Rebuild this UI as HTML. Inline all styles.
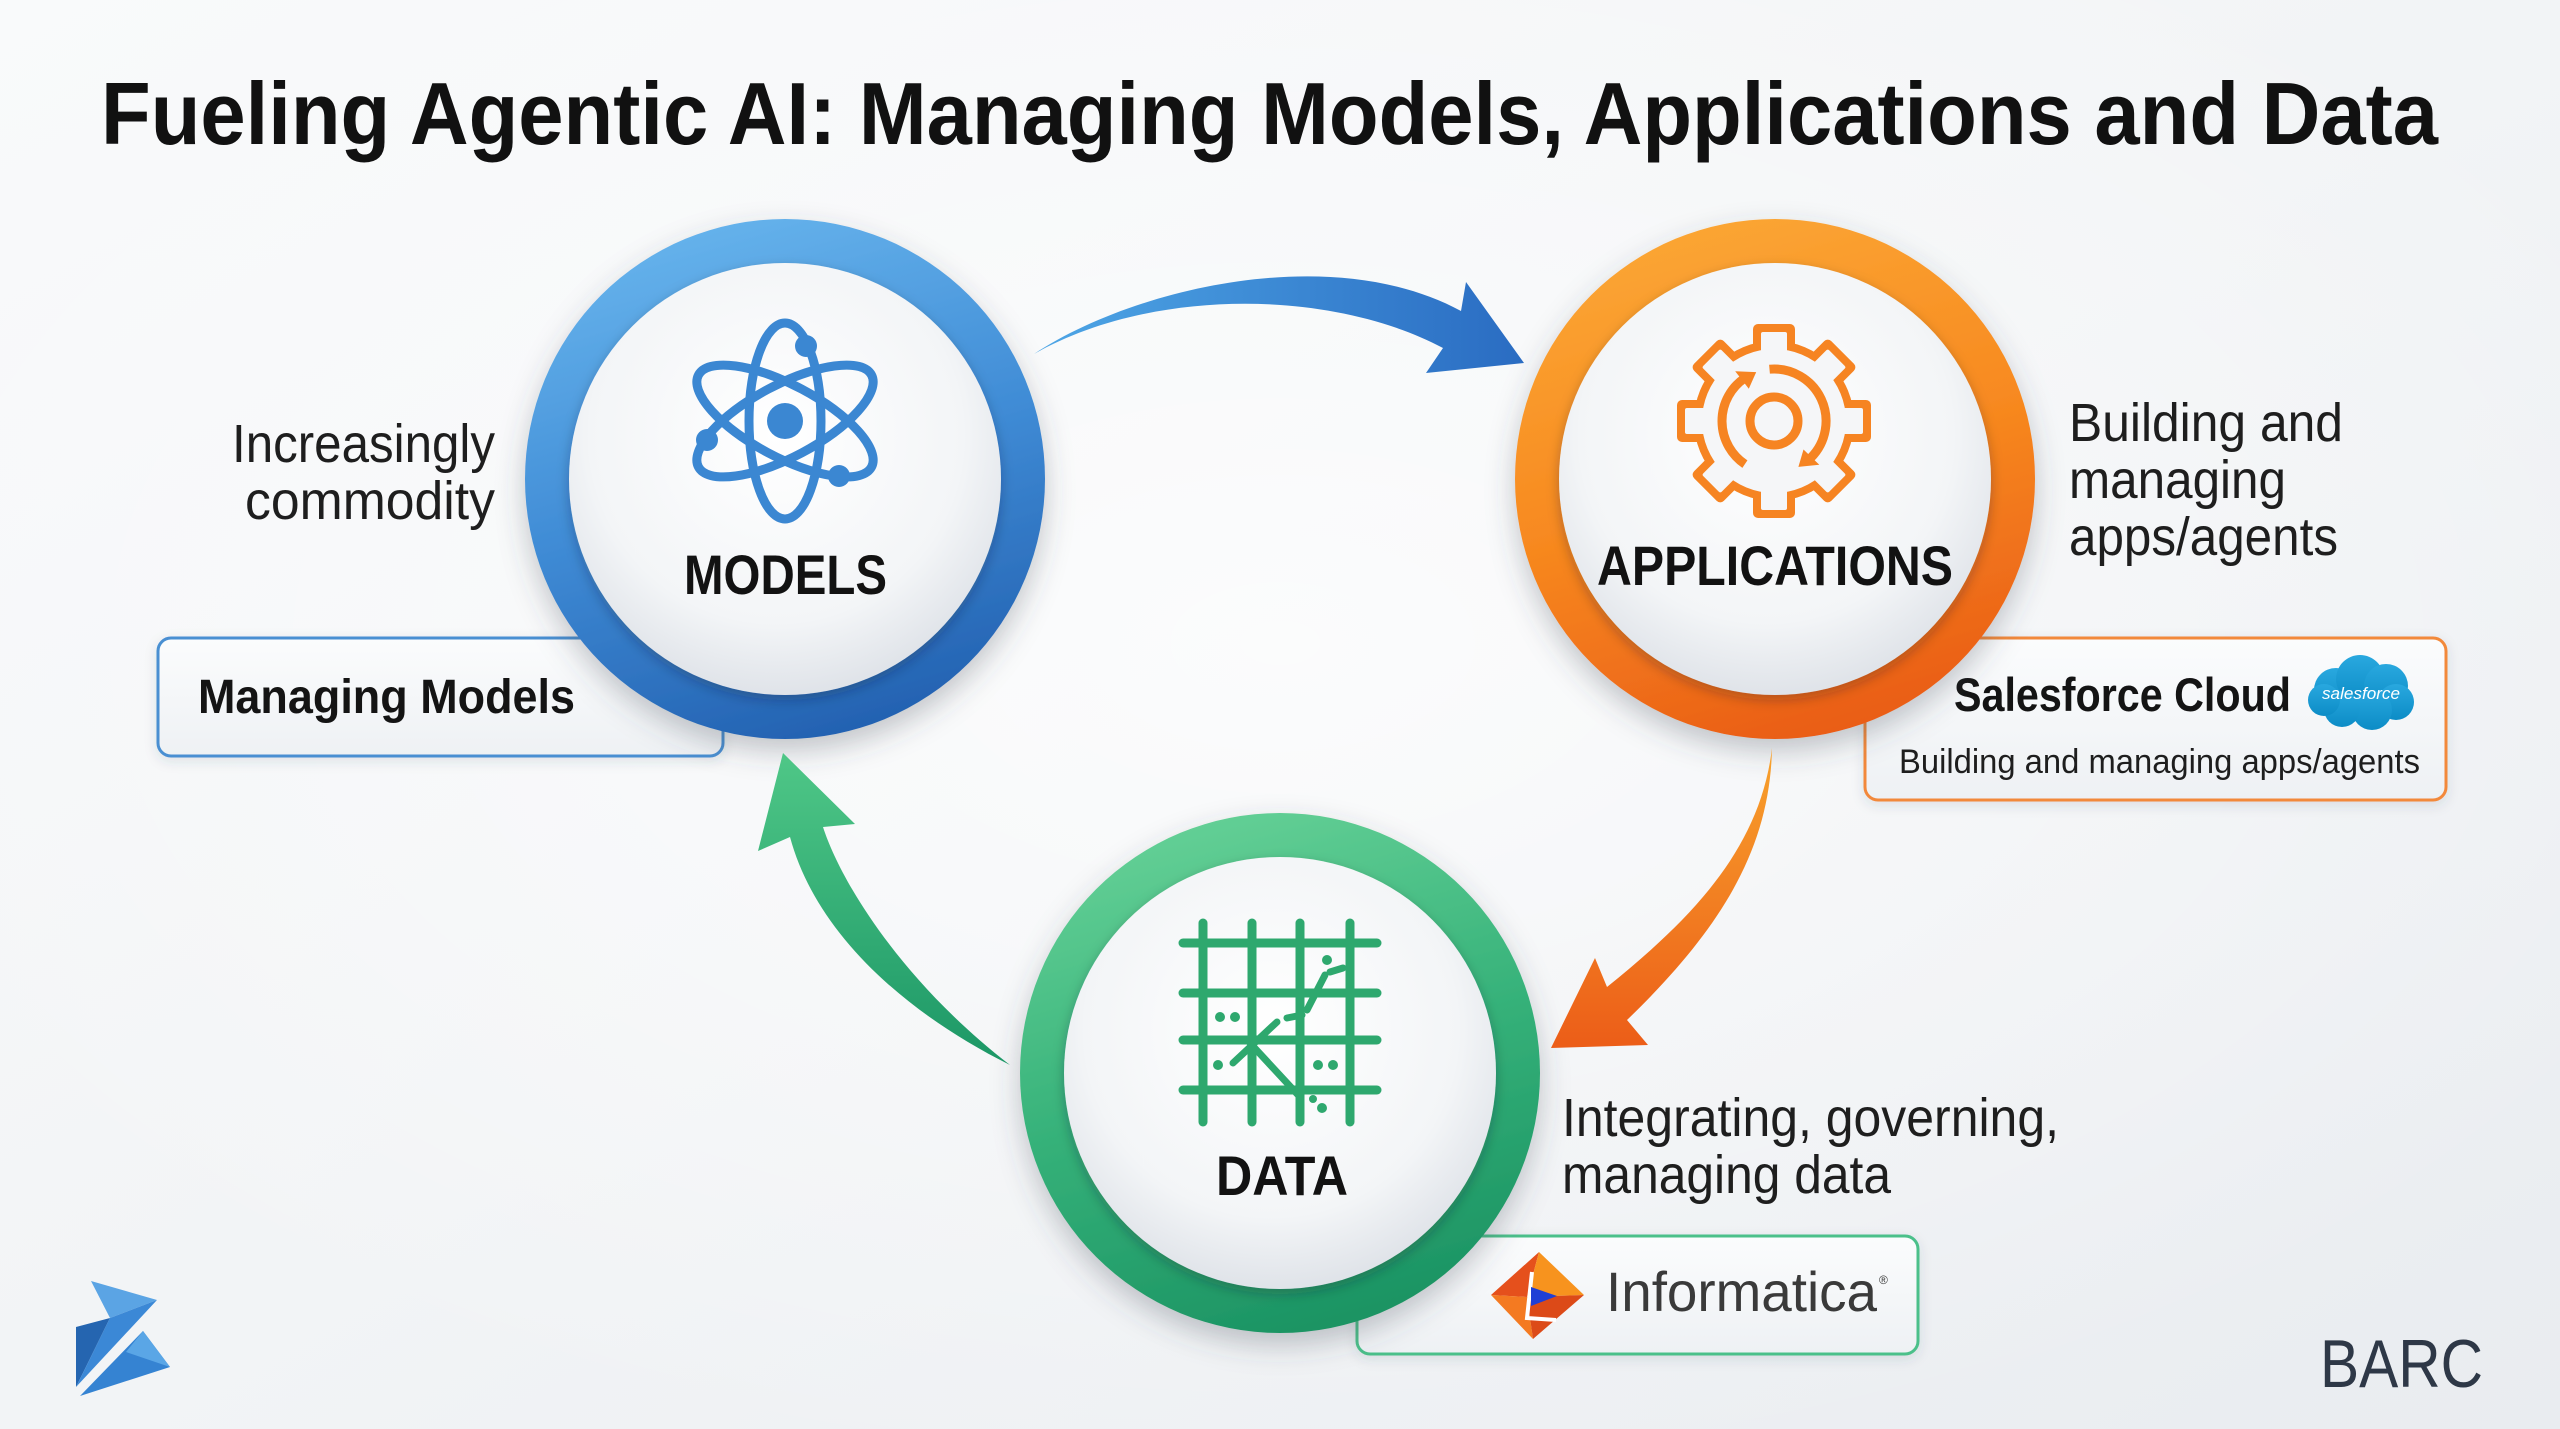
<!DOCTYPE html>
<html>
<head>
<meta charset="utf-8">
<style>
html,body{margin:0;padding:0;width:2560px;height:1429px;overflow:hidden;background:#f1f3f6}
svg{display:block}
text{font-family:"Liberation Sans",Arial,sans-serif}
</style>
</head>
<body>
<svg width="2560" height="1429" viewBox="0 0 2560 1429" xmlns="http://www.w3.org/2000/svg">
<defs>
  <linearGradient id="bg" x1="0" y1="0" x2="1" y2="1">
    <stop offset="0" stop-color="#f9fafb"/>
    <stop offset="0.5" stop-color="#f2f4f6"/>
    <stop offset="1" stop-color="#e9ecf0"/>
  </linearGradient>
  <radialGradient id="bgglow" cx="0.5" cy="0.45" r="0.6">
    <stop offset="0" stop-color="#ffffff" stop-opacity="0.7"/>
    <stop offset="1" stop-color="#ffffff" stop-opacity="0"/>
  </radialGradient>
  <linearGradient id="ringBlue" x1="0.35" y1="0" x2="0.65" y2="1">
    <stop offset="0" stop-color="#66b3ec"/>
    <stop offset="0.5" stop-color="#3f8bd5"/>
    <stop offset="1" stop-color="#2260b0"/>
  </linearGradient>
  <linearGradient id="ringOrange" x1="0.35" y1="0" x2="0.65" y2="1">
    <stop offset="0" stop-color="#fba634"/>
    <stop offset="0.5" stop-color="#f7881f"/>
    <stop offset="1" stop-color="#e95b16"/>
  </linearGradient>
  <linearGradient id="ringGreen" x1="0.35" y1="0" x2="0.65" y2="1">
    <stop offset="0" stop-color="#64d096"/>
    <stop offset="0.5" stop-color="#35b179"/>
    <stop offset="1" stop-color="#1a9262"/>
  </linearGradient>
  <radialGradient id="disc" cx="0.48" cy="0.4" r="0.62">
    <stop offset="0" stop-color="#ffffff"/>
    <stop offset="0.7" stop-color="#f3f5f7"/>
    <stop offset="1" stop-color="#dde1e7"/>
  </radialGradient>
  <linearGradient id="arBlue" x1="0" y1="0" x2="1" y2="0">
    <stop offset="0" stop-color="#4ea6e6"/>
    <stop offset="1" stop-color="#2a6cc2"/>
  </linearGradient>
  <linearGradient id="arGreen" x1="0" y1="0" x2="0" y2="1">
    <stop offset="0" stop-color="#4fc787"/>
    <stop offset="1" stop-color="#1c9766"/>
  </linearGradient>
  <linearGradient id="arOrange" x1="0" y1="0" x2="0" y2="1">
    <stop offset="0" stop-color="#f8a22c"/>
    <stop offset="1" stop-color="#ec5d18"/>
  </linearGradient>
  <linearGradient id="boxfill" x1="0" y1="0" x2="0" y2="1">
    <stop offset="0" stop-color="#fbfcfd"/>
    <stop offset="1" stop-color="#eef1f4"/>
  </linearGradient>
  <linearGradient id="sfg" x1="0" y1="0" x2="0" y2="1">
    <stop offset="0" stop-color="#29a8df"/>
    <stop offset="1" stop-color="#0c8cc6"/>
  </linearGradient>
  <filter id="sh" x="-25%" y="-25%" width="150%" height="150%">
    <feDropShadow dx="0" dy="12" stdDeviation="14" flood-color="#3c4656" flood-opacity="0.3"/>
  </filter>
  <filter id="ish" x="-25%" y="-25%" width="150%" height="150%">
    <feDropShadow dx="0" dy="5" stdDeviation="6" flood-color="#1c2430" flood-opacity="0.28"/>
  </filter>
  <filter id="bsh" x="-10%" y="-20%" width="120%" height="150%">
    <feDropShadow dx="0" dy="4" stdDeviation="6" flood-color="#3c4656" flood-opacity="0.12"/>
  </filter>
</defs>

<!-- background -->
<rect width="2560" height="1429" fill="url(#bg)"/>
<rect width="2560" height="1429" fill="url(#bgglow)"/>

<!-- title -->
<text x="101" y="144" font-size="88" font-weight="bold" fill="#111" textLength="2337" lengthAdjust="spacingAndGlyphs">Fueling Agentic AI: Managing Models, Applications and Data</text>

<!-- side texts -->
<text x="232" y="462" font-size="54" fill="#1e1e1e" textLength="263" lengthAdjust="spacingAndGlyphs">Increasingly</text>
<text x="245" y="519" font-size="54" fill="#1e1e1e" textLength="250" lengthAdjust="spacingAndGlyphs">commodity</text>

<text x="2069" y="441" font-size="54" fill="#1e1e1e" textLength="274" lengthAdjust="spacingAndGlyphs">Building and</text>
<text x="2069" y="498" font-size="54" fill="#1e1e1e" textLength="217" lengthAdjust="spacingAndGlyphs">managing</text>
<text x="2069" y="555" font-size="54" fill="#1e1e1e" textLength="269" lengthAdjust="spacingAndGlyphs">apps/agents</text>

<text x="1562" y="1136" font-size="54" fill="#1e1e1e" textLength="497" lengthAdjust="spacingAndGlyphs">Integrating, governing,</text>
<text x="1562" y="1193" font-size="54" fill="#1e1e1e" textLength="329" lengthAdjust="spacingAndGlyphs">managing data</text>

<!-- boxes -->
<rect x="158" y="638" width="565" height="118" rx="13" fill="url(#boxfill)" stroke="#4a8fd2" stroke-width="3" filter="url(#bsh)"/>
<text x="198" y="713" font-size="48" font-weight="bold" fill="#141414" textLength="377" lengthAdjust="spacingAndGlyphs">Managing Models</text>

<rect x="1865" y="638" width="581" height="162" rx="13" fill="url(#boxfill)" stroke="#f2893a" stroke-width="3" filter="url(#bsh)"/>
<text x="1954" y="711" font-size="47" font-weight="bold" fill="#141414" textLength="337" lengthAdjust="spacingAndGlyphs">Salesforce Cloud</text>
<text x="1899" y="773" font-size="34" fill="#1e1e1e" textLength="521" lengthAdjust="spacingAndGlyphs">Building and managing apps/agents</text>
<!-- salesforce cloud logo -->
<g fill="url(#sfg)">
  <circle cx="2336" cy="690" r="22"/>
  <circle cx="2360" cy="679" r="24"/>
  <circle cx="2386" cy="686" r="22"/>
  <circle cx="2396" cy="702" r="18"/>
  <circle cx="2372" cy="710" r="20"/>
  <circle cx="2342" cy="709" r="18"/>
  <circle cx="2324" cy="700" r="16"/>
</g>
<text x="2361" y="699" font-size="17" fill="#ffffff" text-anchor="middle" font-style="italic" textLength="78" lengthAdjust="spacingAndGlyphs">salesforce</text>

<rect x="1357" y="1236" width="561" height="118" rx="13" fill="url(#boxfill)" stroke="#4cc08a" stroke-width="3" filter="url(#bsh)"/>
<!-- informatica logo -->
<g>
  <polygon points="1539,1252 1491,1295 1527,1297" fill="#e5501c"/>
  <polygon points="1539,1252 1584,1295 1527,1297" fill="#f7931e"/>
  <polygon points="1491,1295 1533,1339 1527,1297" fill="#f47a21"/>
  <polygon points="1584,1295 1533,1339 1527,1297" fill="#dc4a18"/>
  <polyline points="1532,1272 1527,1318 1556,1320" fill="none" stroke="#ffffff" stroke-width="4"/>
  <polygon points="1531,1287 1557,1296 1531,1306" fill="#1f3fd6"/>
</g>
<text x="1606" y="1311" font-size="56" fill="#3a3a3a" textLength="271" lengthAdjust="spacingAndGlyphs">Informatica</text>
<text x="1879" y="1284" font-size="12" fill="#3a3a3a">®</text>

<!-- circles -->
<!-- Models -->
<circle cx="785" cy="479" r="260" fill="url(#ringBlue)" filter="url(#sh)"/>
<circle cx="785" cy="479" r="216" fill="url(#disc)" filter="url(#ish)"/>
<!-- Applications -->
<circle cx="1775" cy="479" r="260" fill="url(#ringOrange)" filter="url(#sh)"/>
<circle cx="1775" cy="479" r="216" fill="url(#disc)" filter="url(#ish)"/>
<!-- Data -->
<circle cx="1280" cy="1073" r="260" fill="url(#ringGreen)" filter="url(#sh)"/>
<circle cx="1280" cy="1073" r="216" fill="url(#disc)" filter="url(#ish)"/>

<!-- atom icon -->
<g transform="translate(785,421)" fill="none" stroke="#3b87d2" stroke-width="9">
  <ellipse rx="98" ry="36" transform="rotate(90)"/>
  <ellipse rx="98" ry="36" transform="rotate(28)"/>
  <ellipse rx="98" ry="36" transform="rotate(-28)"/>
</g>
<g fill="#3b87d2">
  <circle cx="785" cy="421" r="18"/>
  <circle cx="806" cy="346" r="11"/>
  <circle cx="707" cy="440" r="11"/>
  <circle cx="839" cy="476" r="11"/>
</g>
<text x="684" y="594" font-size="56" font-weight="bold" fill="#121212" textLength="203" lengthAdjust="spacingAndGlyphs">MODELS</text>

<!-- gear icon -->
<g transform="translate(1774,421)">
  <g fill="#f68422">
    <circle r="80"/>
    <rect x="-21" y="-97" width="42" height="34" rx="5"/>
    <rect x="-21" y="-97" width="42" height="34" rx="5" transform="rotate(45)"/>
    <rect x="-21" y="-97" width="42" height="34" rx="5" transform="rotate(90)"/>
    <rect x="-21" y="-97" width="42" height="34" rx="5" transform="rotate(135)"/>
    <rect x="-21" y="-97" width="42" height="34" rx="5" transform="rotate(180)"/>
    <rect x="-21" y="-97" width="42" height="34" rx="5" transform="rotate(225)"/>
    <rect x="-21" y="-97" width="42" height="34" rx="5" transform="rotate(270)"/>
    <rect x="-21" y="-97" width="42" height="34" rx="5" transform="rotate(315)"/>
  </g>
  <g fill="#f5f6f8">
    <circle r="72"/>
    <rect x="-13" y="-89" width="26" height="34" rx="2"/>
    <rect x="-13" y="-89" width="26" height="34" rx="2" transform="rotate(45)"/>
    <rect x="-13" y="-89" width="26" height="34" rx="2" transform="rotate(90)"/>
    <rect x="-13" y="-89" width="26" height="34" rx="2" transform="rotate(135)"/>
    <rect x="-13" y="-89" width="26" height="34" rx="2" transform="rotate(180)"/>
    <rect x="-13" y="-89" width="26" height="34" rx="2" transform="rotate(225)"/>
    <rect x="-13" y="-89" width="26" height="34" rx="2" transform="rotate(270)"/>
    <rect x="-13" y="-89" width="26" height="34" rx="2" transform="rotate(315)"/>
  </g>
  <circle r="24" fill="none" stroke="#f68422" stroke-width="9"/>
  <path d="M-29.1,43.1 A52,52 0 0 1 -29.8,-42.6" fill="none" stroke="#f68422" stroke-width="9"/>
  <polygon points="-17.8,-48.9 -38.8,-49.7 -25.2,-32.3" fill="#f68422"/>
  <path d="M-4.5,-51.8 A52,52 0 0 1 36.8,36.8" fill="none" stroke="#f68422" stroke-width="9"/>
  <polygon points="24.4,45.9 45.3,43.7 29.5,28.5" fill="#f68422"/>
</g>
<text x="1597" y="585" font-size="56" font-weight="bold" fill="#121212" textLength="356" lengthAdjust="spacingAndGlyphs">APPLICATIONS</text>

<!-- data grid icon -->
<g stroke="#2ea86e" stroke-width="9" stroke-linecap="round" fill="none">
  <line x1="1203" y1="923" x2="1203" y2="1122"/>
  <line x1="1252" y1="923" x2="1252" y2="1122"/>
  <line x1="1300" y1="923" x2="1300" y2="1122"/>
  <line x1="1350" y1="923" x2="1350" y2="1122"/>
  <line x1="1183" y1="943" x2="1377" y2="943"/>
  <line x1="1183" y1="993" x2="1377" y2="993"/>
  <line x1="1183" y1="1040" x2="1377" y2="1040"/>
  <line x1="1183" y1="1090" x2="1377" y2="1090"/>
</g>
<g stroke="#2ea86e" stroke-width="7" stroke-linecap="round" fill="none">
  <line x1="1250" y1="1043" x2="1300" y2="1097"/>
  <line x1="1233" y1="1063" x2="1277" y2="1022"/>
  <line x1="1287" y1="1018" x2="1302" y2="1015"/>
  <line x1="1307" y1="1010" x2="1325" y2="975"/>
  <line x1="1330" y1="972" x2="1343" y2="968"/>
</g>
<g fill="#2ea86e">
  <circle cx="1327" cy="960" r="5"/>
  <circle cx="1220" cy="1017" r="5"/>
  <circle cx="1235" cy="1017" r="5"/>
  <circle cx="1318" cy="1065" r="5"/>
  <circle cx="1333" cy="1065" r="5"/>
  <circle cx="1218" cy="1065" r="5"/>
  <circle cx="1322" cy="1108" r="5"/>
  <circle cx="1313" cy="1099" r="4"/>
</g>
<text x="1216" y="1195" font-size="56" font-weight="bold" fill="#121212" textLength="132" lengthAdjust="spacingAndGlyphs">DATA</text>

<!-- arrows -->
<path d="M1034,354 C1130,290 1330,240 1461,311 L1466,282 L1524,363 L1426,373 L1443,348 C1330,288 1150,288 1034,354 Z" fill="url(#arBlue)"/>
<path d="M1772,748 C1770,850 1720,930 1627,1020 L1648,1045 L1551,1048 L1595,958 L1607,987 C1690,920 1760,850 1772,748 Z" fill="url(#arOrange)"/>
<path d="M783,753 L855,824 L823,827 C840,880 900,980 1010,1065 C900,1010 815,930 790,837 L758,851 Z" fill="url(#arGreen)"/>

<!-- bottom-left logo -->
<g>
  <polygon points="91,1281 157,1300 110,1318" fill="#5ba4e4"/>
  <polygon points="76,1327 110,1318 76,1387" fill="#2565b0"/>
  <polygon points="110,1318 157,1300 76,1387" fill="#3b88d6"/>
  <polygon points="80,1396 143,1331 170,1367" fill="#3583d2"/>
  <polygon points="143,1331 170,1367 126,1352" fill="#5aa6e6"/>
</g>

<!-- BARC -->
<text x="2320" y="1387" font-size="68" fill="#2e3847" textLength="163" lengthAdjust="spacingAndGlyphs">BARC</text>
</svg>
</body>
</html>
